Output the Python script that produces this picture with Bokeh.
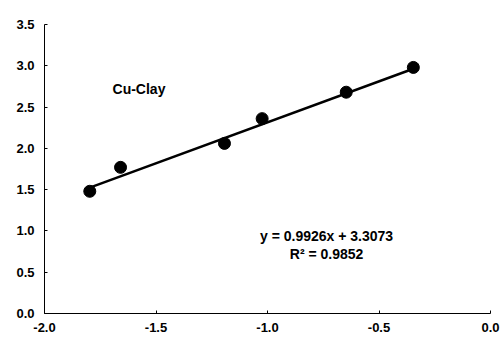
from bokeh.plotting import figure
from bokeh.models import Range1d, FixedTicker, NumeralTickFormatter, Label
from bokeh.embed import file_html
from bokeh.resources import INLINE

# Measured points (log-scale values)
x_vals = [-1.797, -1.659, -1.193, -1.024, -0.647, -0.346]
y_vals = [1.48, 1.77, 2.06, 2.36, 2.68, 2.98]

# Linear fit reported on the chart
slope = 0.9926
intercept = 3.3073
r_squared = 0.9852

x_ticks = [-2.0, -1.5, -1.0, -0.5, 0.0]
y_ticks = [0.0, 0.5, 1.0, 1.5, 2.0, 2.5, 3.0, 3.5]

FONT = "Liberation Sans"

p = figure(width=504, height=345, output_backend="svg", toolbar_location=None,
           x_range=Range1d(-2.0, 0.0), y_range=Range1d(0.0, 3.5),
           min_border_left=44, min_border_right=14, min_border_top=24,
           min_border_bottom=32)
p.outline_line_color = None
p.xgrid.visible = False
p.ygrid.visible = False
p.background_fill_color = "white"
p.border_fill_color = "white"

for ax, ticks in ((p.xaxis, x_ticks), (p.yaxis, y_ticks)):
    ax.ticker = FixedTicker(ticks=ticks)
    ax.formatter = NumeralTickFormatter(format="0.0")
    ax.minor_tick_line_color = None
    ax.major_tick_in = 3
    ax.major_tick_out = 0
    ax.axis_line_color = "black"
    ax.axis_line_width = 1
    ax.major_tick_line_color = "black"
    ax.major_label_text_font = FONT
    ax.major_label_text_font_style = "bold"
    ax.major_label_text_font_size = "13px"
    ax.major_label_text_color = "black"

p.yaxis.major_label_standoff = 10
p.xaxis.major_label_standoff = 9

# Trend line across the measured range
x_line = [min(x_vals), max(x_vals)]
y_line = [slope * x + intercept for x in x_line]
p.line(x_line, y_line, line_color="black", line_width=2.5)

p.scatter(x_vals, y_vals, size=12, marker="circle",
          fill_color="black", line_color="black")

p.add_layout(Label(x=-1.695, y=2.72, text="Cu-Clay", text_font=FONT,
                   text_font_style="bold", text_font_size="14px",
                   text_color="black",
                   text_baseline="middle", text_align="left"))
p.add_layout(Label(x=-0.735, y=0.94,
                   text=f"y = {slope:.4f}x + {intercept:.4f}", text_font=FONT,
                   text_font_style="bold", text_font_size="14px",
                   text_color="black",
                   text_baseline="middle", text_align="center"))
p.add_layout(Label(x=-0.735, y=0.72, text=f"R\u00b2 = {r_squared:.4f}",
                   text_font=FONT, text_font_style="bold",
                   text_font_size="14px", text_color="black",
                   text_baseline="middle", text_align="center"))

open("out.html", "w").write(file_html(p, INLINE))
